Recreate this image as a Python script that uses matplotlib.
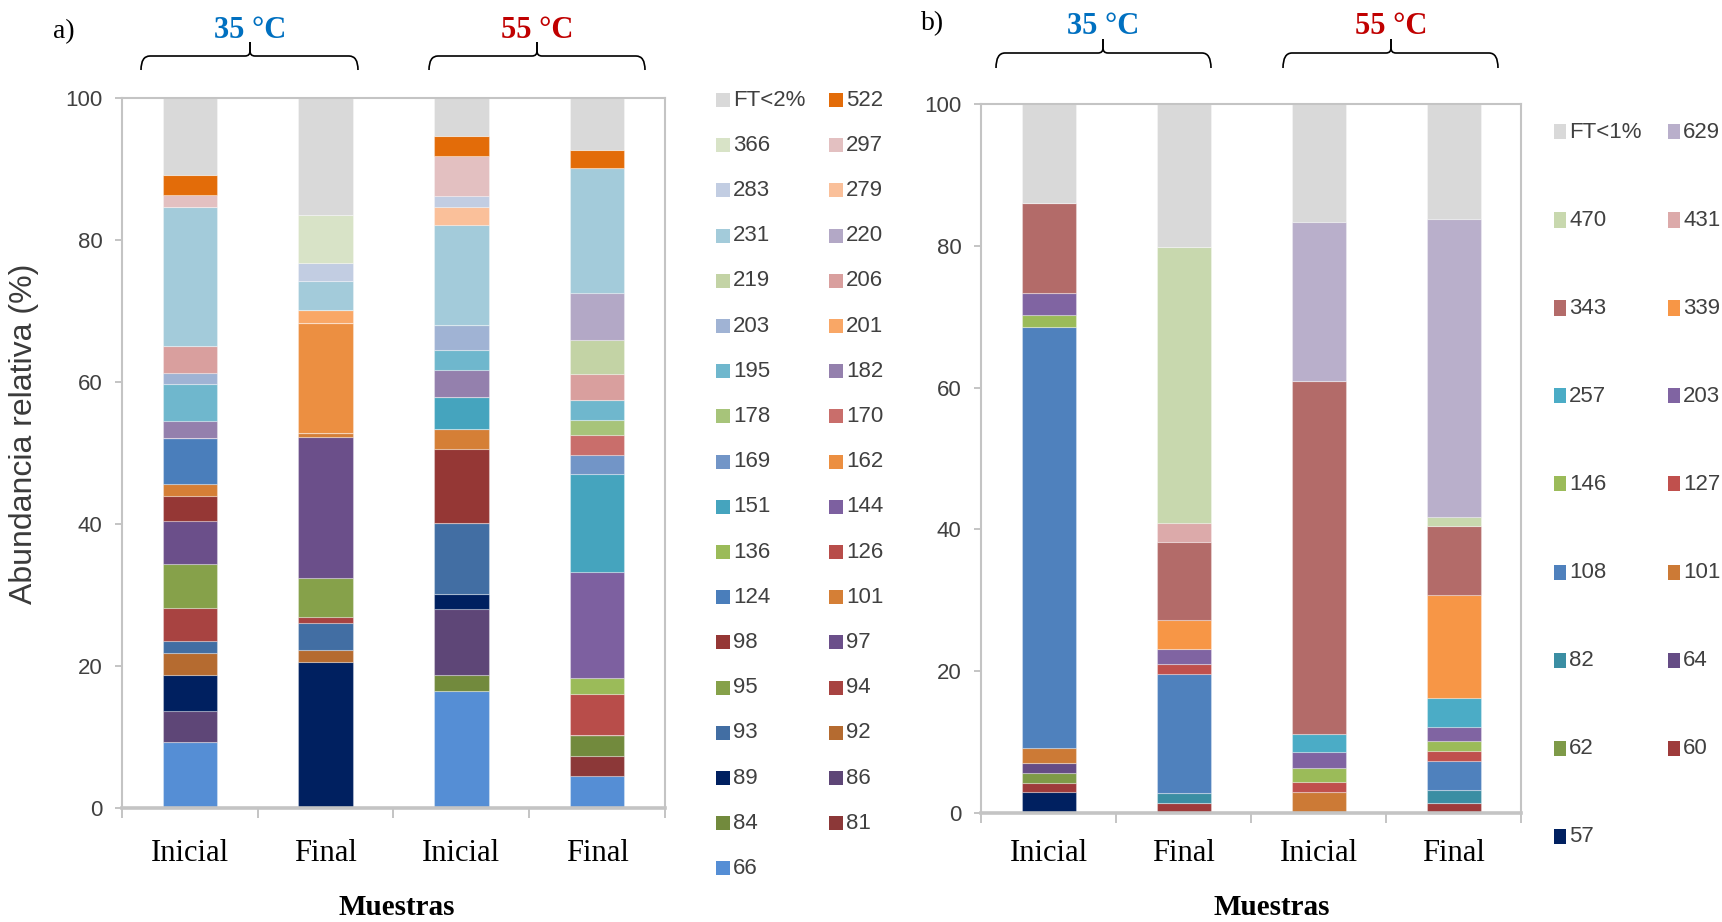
import matplotlib
matplotlib.use("Agg")
import matplotlib.pyplot as plt
from matplotlib.path import Path
from matplotlib.patches import PathPatch, Rectangle
import numpy as np

W, H = 1722, 922

# sample names on the x axis
samples = ["Inicial", "Final", "Inicial", "Final"]

# ---- panel a: OTUs (bottom to top of the stack) and colours
otus_a = ["66", "81", "84", "86", "89", "92", "93", "94", "95", "97", "98", "101",
          "124", "126", "136", "144", "151", "162", "169", "170", "178", "182",
          "195", "201", "203", "206", "219", "220", "231", "279", "283", "297",
          "366", "522", "FT<2%"]
colors_a = ["#558ed5", "#8c3838", "#728a3d", "#5e4677", "#002060", "#b56b30",
            "#426ea3", "#a84341", "#86a14a", "#6b4f8a", "#953735", "#d57f36",
            "#4a7ebb", "#b84d4a", "#9bbb59", "#7d60a0", "#45a4be", "#ec8f41",
            "#7295c7", "#c96e6b", "#a7c47a", "#9480ad", "#6fb7cd", "#f9a766",
            "#a0b3d4", "#d99f9e", "#c3d3a5", "#b3a8c6", "#a3cbda", "#fac09a",
            "#c2cde2", "#e3c0c1", "#d8e3c7", "#e36c09", "#d9d9d9"]

# relative abundance (%) per sample
ini35_a = {"66": 9.3, "86": 4.4, "89": 5.0, "92": 3.1, "93": 1.7, "94": 4.7,
           "95": 6.2, "97": 6.0, "98": 3.5, "101": 1.8, "124": 6.4, "182": 2.4,
           "195": 5.2, "203": 1.5, "206": 3.9, "231": 19.5, "297": 1.7,
           "522": 2.8, "FT<2%": 10.9}
fin35_a = {"89": 20.5, "92": 1.7, "93": 3.8, "94": 0.9, "95": 5.5, "97": 19.9,
           "101": 0.5, "162": 15.5, "201": 1.8, "231": 4.1, "283": 2.6,
           "366": 6.7, "FT<2%": 16.5}
ini55_a = {"66": 16.5, "84": 2.3, "86": 9.2, "89": 2.2, "93": 10.0, "98": 10.3,
           "101": 2.9, "151": 4.5, "182": 3.8, "195": 2.8, "203": 3.5,
           "231": 14.1, "279": 2.5, "283": 1.6, "297": 5.6, "522": 2.9,
           "FT<2%": 5.3}
fin55_a = {"66": 4.5, "81": 2.8, "84": 3.0, "126": 5.8, "136": 2.2, "144": 14.9,
           "151": 13.9, "169": 2.6, "170": 2.8, "178": 2.2, "195": 2.7,
           "206": 3.7, "219": 4.8, "220": 6.7, "231": 17.5, "522": 2.6,
           "FT<2%": 7.3}

# ---- panel b
otus_b = ["57", "60", "62", "64", "82", "101", "108", "127", "146", "203", "257",
          "339", "343", "431", "470", "629", "FT<1%"]
colors_b = ["#002060", "#9e3b3b", "#7e9a48", "#654c85", "#3b8ea3", "#cc7a36",
            "#4f81bd", "#c0504d", "#9bbb59", "#8064a2", "#4bacc6", "#f79646",
            "#b36b69", "#dcaaaa", "#c8d8ae", "#b9afcb", "#d9d9d9"]

ini35_b = {"57": 2.9, "60": 1.3, "62": 1.4, "64": 1.4, "101": 2.2, "108": 59.4,
           "146": 1.6, "203": 3.1, "343": 12.7, "FT<1%": 14.0}
fin35_b = {"60": 1.4, "82": 1.4, "108": 16.8, "127": 1.4, "203": 2.2, "339": 4.0,
           "343": 11.0, "431": 2.7, "470": 39.0, "FT<1%": 20.1}
ini55_b = {"101": 3.0, "127": 1.4, "146": 1.9, "203": 2.3, "257": 2.6,
           "343": 49.8, "629": 22.4, "FT<1%": 16.6}
fin55_b = {"60": 1.4, "82": 1.9, "108": 4.0, "127": 1.4, "146": 1.4, "203": 2.1,
           "257": 4.0, "339": 14.6, "343": 9.7, "470": 1.2, "629": 42.1,
           "FT<1%": 16.2}

SANS = ["Liberation Sans", "DejaVu Sans"]
SERIF = ["Liberation Serif", "DejaVu Serif"]
AXCOL = "#c4c4c4"


def fx(px):
    return px / W


def fy(py):
    return 1 - py / H


def stacked(ax, otus, colors, bars):
    x = np.arange(len(bars))
    bottom = np.zeros(len(bars))
    for otu, col in zip(otus, colors):
        h = np.array([b.get(otu, 0.0) for b in bars])
        ax.bar(x, h, width=0.4, bottom=bottom, color=col,
               edgecolor=(1, 1, 1, 0.3), linewidth=0.8)
        bottom += h


def style_axes(ax, xpad):
    ax.set_xlim(-0.5, 3.5)
    ax.set_ylim(0, 100)
    ax.set_yticks(range(0, 101, 20))
    ax.set_xticks(range(4))
    ax.set_xticklabels(samples, fontfamily=SERIF, fontsize=22)
    ax.set_xticks(np.arange(-0.5, 4, 1), minor=True)
    ax.tick_params(axis="x", which="major", length=0, pad=xpad)
    ax.tick_params(axis="x", which="minor", length=7, width=1.4, color=AXCOL)
    ax.tick_params(axis="y", length=5, width=1.4, color=AXCOL, pad=9,
                   labelsize=16, labelcolor="#404040")
    for lab in ax.get_yticklabels():
        lab.set_fontfamily(SANS)
    for side in ["left", "right", "top"]:
        ax.spines[side].set_color(AXCOL)
        ax.spines[side].set_linewidth(1.5)
    ax.spines["bottom"].set_color(AXCOL)
    ax.spines["bottom"].set_linewidth(2.6)


def brace(fig, x1, x2, xc, yline, yend, ytop):
    r, rn = 9, 5
    for xe, s in [(x1, 1), (x2, -1)]:
        verts = [(xe, yend), (xe, yline), (xe + s * r, yline),
                 (xc - s * rn, yline), (xc, yline), (xc, yline - rn),
                 (xc, ytop)]
        codes = [Path.MOVETO, Path.CURVE3, Path.CURVE3, Path.LINETO,
                 Path.CURVE3, Path.CURVE3, Path.LINETO]
        verts = [(fx(a), fy(b)) for a, b in verts]
        fig.patches.append(PathPatch(Path(verts, codes), fill=False, lw=1.2,
                                     edgecolor="black",
                                     transform=fig.transFigure, figure=fig))


def legend_grid(fig, otus, colors, x_cols, y0, dy, mw, mh):
    items = list(zip(otus, colors))[::-1]
    for i, (lab, col) in enumerate(items):
        r, c = divmod(i, 2)
        x, y = x_cols[c], y0 + r * dy
        fig.patches.append(Rectangle((fx(x), fy(y + mh / 2)), mw / W, mh / H,
                                     facecolor=col, edgecolor="none",
                                     transform=fig.transFigure, figure=fig))
        fig.text(fx(x + mw + 3), fy(y), lab, fontfamily=SANS, fontsize=16,
                 color="#404040", va="center", ha="left")


fig = plt.figure(figsize=(W / 100, H / 100), dpi=100)

ax_a = fig.add_axes([fx(122), fy(808), fx(665) - fx(122), fy(98) - fy(808)])
stacked(ax_a, otus_a, colors_a, [ini35_a, fin35_a, ini55_a, fin55_a])
style_axes(ax_a, 22)

ax_b = fig.add_axes([fx(981), fy(813), fx(1521) - fx(981), fy(104) - fy(813)])
stacked(ax_b, otus_b, colors_b, [ini35_b, fin35_b, ini55_b, fin55_b])
style_axes(ax_b, 19)

# legends
legend_grid(fig, otus_a, colors_a, [716, 829], 100, 45.2, 14, 14)
legend_grid(fig, otus_b, colors_b, [1554, 1668], 132, 88, 12, 15)

# temperature braces and labels
brace(fig, 141, 358, 250, 56, 70, 42)
brace(fig, 429, 645, 537, 56, 70, 42)
brace(fig, 996, 1211, 1103, 53, 68, 39)
brace(fig, 1283, 1498, 1391, 53, 68, 39)
for x, y, t, c in [(250, 30, "35 °C", "#0070c0"), (537, 30, "55 °C", "#c00000"),
                   (1103, 27, "35 °C", "#0070c0"), (1391, 27, "55 °C", "#c00000")]:
    fig.text(fx(x), fy(y), t, color=c, fontfamily=SERIF, fontweight="bold",
             fontsize=22, ha="center", va="center")

fig.text(fx(64), fy(32), "a)", fontfamily=SERIF, fontsize=20, ha="center", va="center")
fig.text(fx(933), fy(24), "b)", fontfamily=SERIF, fontsize=20, ha="center", va="center")

fig.text(fx(397), fy(907), "Muestras", fontfamily=SERIF, fontweight="bold",
         fontsize=21, ha="center", va="center")
fig.text(fx(1272), fy(907), "Muestras", fontfamily=SERIF, fontweight="bold",
         fontsize=21, ha="center", va="center")

fig.text(fx(24), fy(434), "Abundancia relativa (%)", rotation=90,
         fontfamily=SANS, fontsize=23, color="#3a3a3a",
         ha="center", va="center")

fig.savefig("out.png", dpi=100)
